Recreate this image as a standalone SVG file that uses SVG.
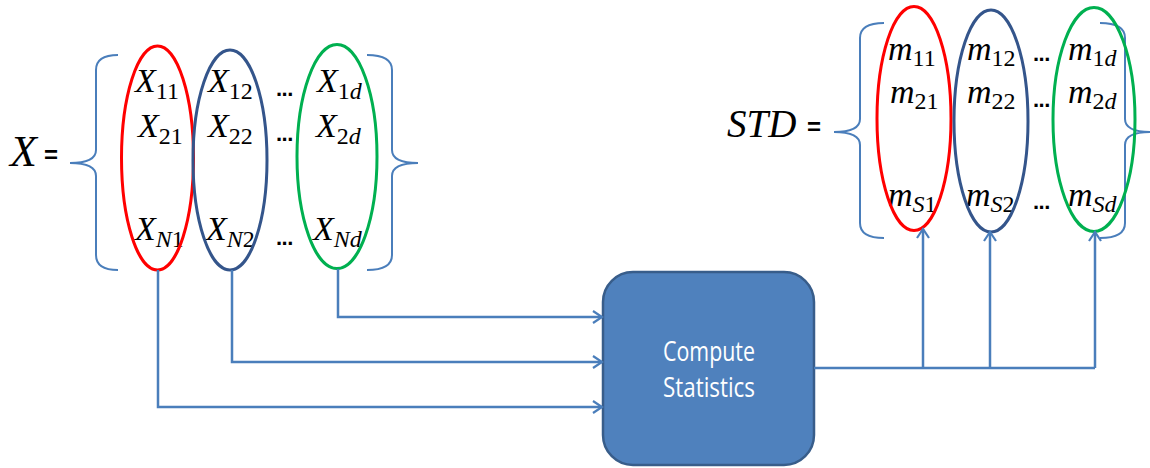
<svg xmlns="http://www.w3.org/2000/svg" width="1150" height="468" viewBox="0 0 1150 468">
<style>
.m{font-family:"Liberation Serif",serif;font-style:italic;fill:#000}
.sub{font-family:"Liberation Serif",serif;font-size:24px;fill:#000}
.i{font-style:italic}
.dots{font-family:"Liberation Sans",sans-serif;font-size:22px;font-weight:bold;fill:#000;letter-spacing:-0.5px}
.eq{font-family:"Liberation Sans",sans-serif;font-size:24px;font-weight:bold;fill:#000}
.brace{fill:none;stroke:#4a7ebb;stroke-width:2}
.conn{fill:none;stroke:#4a7ebb;stroke-width:2.5}
.ell{fill:none;stroke-width:3}
.lbl{font-family:"Open Sans",sans-serif;font-size:28px;fill:#ffffff}
</style>
<defs>
<marker id="arr" markerWidth="12" markerHeight="14" refX="10" refY="7" orient="auto" markerUnits="userSpaceOnUse">
<path d="M1,1 L10,7 L1,13" fill="none" stroke="#4a7ebb" stroke-width="2.2"/>
</marker>
</defs>

<g id="labelX">
<text x="10" y="166" class="m" font-size="44">X</text>
<text x="44" y="163" class="eq">=</text>
</g>

<g id="matrixX">
<path class="brace" d="M118,55 Q96,55 96,70 L96,150 Q96,163 70,163 Q96,163 96,176 L96,255 Q96,270 118,270"/>
<path class="brace" d="M367,55 Q392,55 392,70 L392,150 Q392,163 418,163 Q392,163 392,176 L392,255 Q392,270 367,270"/>
<g font-size="34">
<text x="135" y="92" class="m">X<tspan class="sub" font-style="normal" dy="7">11</tspan></text>
<text x="138" y="137" class="m">X<tspan class="sub" font-style="normal" dy="7">21</tspan></text>
<text x="135" y="240" class="m">X<tspan class="sub" dy="7"><tspan class="i">N</tspan><tspan font-style="normal">1</tspan></tspan></text>
<text x="208" y="92" class="m">X<tspan class="sub" font-style="normal" dy="7">12</tspan></text>
<text x="208" y="137" class="m">X<tspan class="sub" font-style="normal" dy="7">22</tspan></text>
<text x="206" y="240" class="m">X<tspan class="sub" dy="7"><tspan class="i">N</tspan><tspan font-style="normal">2</tspan></tspan></text>
<text x="317" y="92" class="m">X<tspan class="sub" dy="7"><tspan font-style="normal">1</tspan><tspan class="i">d</tspan></tspan></text>
<text x="316" y="137" class="m">X<tspan class="sub" dy="7"><tspan font-style="normal">2</tspan><tspan class="i">d</tspan></tspan></text>
<text x="313" y="240" class="m">X<tspan class="sub" dy="7"><tspan class="i">Nd</tspan></tspan></text>
</g>
<text x="276" y="96" class="dots">...</text>
<text x="276" y="141" class="dots">...</text>
<text x="276" y="245" class="dots">...</text>
<ellipse id="colX1" class="ell" cx="157.5" cy="158" rx="36" ry="112" stroke="#ff0000"/>
<ellipse id="colX2" class="ell" cx="230" cy="160" rx="37" ry="110" stroke="#34558b"/>
<ellipse id="colXd" class="ell" cx="337" cy="156.5" rx="40" ry="112" stroke="#00b050"/>
</g>

<g id="labelSTD">
<text x="727" y="137" class="m" font-size="39">STD</text>
<text x="807" y="135" class="eq">=</text>
</g>

<g id="matrixSTD">
<path class="brace" d="M884,23 Q860,23 860,38 L860,119 Q860,132 834,132 Q860,132 860,145 L860,223 Q860,238 884,238"/>
<path class="brace" d="M1100,23 Q1125,23 1125,38 L1125,119 Q1125,132 1151,132 Q1125,132 1125,145 L1125,223 Q1125,238 1100,238"/>
<g font-size="34">
<text x="888" y="60" class="m">m<tspan class="sub" font-style="normal" dy="6">11</tspan></text>
<text x="890" y="103" class="m">m<tspan class="sub" font-style="normal" dy="6">21</tspan></text>
<text x="888" y="206" class="m">m<tspan class="sub" dy="6"><tspan class="i">S</tspan><tspan font-style="normal">1</tspan></tspan></text>
<text x="967" y="60" class="m">m<tspan class="sub" font-style="normal" dy="6">12</tspan></text>
<text x="967" y="103" class="m">m<tspan class="sub" font-style="normal" dy="6">22</tspan></text>
<text x="966" y="206" class="m">m<tspan class="sub" dy="6"><tspan class="i">S</tspan><tspan font-style="normal">2</tspan></tspan></text>
<text x="1068" y="60" class="m">m<tspan class="sub" dy="6"><tspan font-style="normal">1</tspan><tspan class="i">d</tspan></tspan></text>
<text x="1068" y="103" class="m">m<tspan class="sub" dy="6"><tspan font-style="normal">2</tspan><tspan class="i">d</tspan></tspan></text>
<text x="1068" y="206" class="m">m<tspan class="sub" dy="6"><tspan class="i">Sd</tspan></tspan></text>
</g>
<text x="1033" y="61" class="dots">...</text>
<text x="1033" y="107" class="dots">...</text>
<text x="1033" y="209" class="dots">...</text>
<ellipse id="colM1" class="ell" cx="914" cy="118.5" rx="37" ry="112" stroke="#ff0000"/>
<ellipse id="colM2" class="ell" cx="991" cy="121" rx="37" ry="111" stroke="#34558b"/>
<ellipse id="colMd" class="ell" cx="1094" cy="119.5" rx="41" ry="112" stroke="#00b050"/>
</g>

<g id="compute">
<rect x="603" y="272" width="211" height="193" rx="30" ry="30" fill="#4f81bd" stroke="#385d8a" stroke-width="2.5"/>
<text x="663" y="361" class="lbl" textLength="92" lengthAdjust="spacingAndGlyphs">Compute</text>
<text x="663" y="397" class="lbl" textLength="92" lengthAdjust="spacingAndGlyphs">Statistics</text>
</g>

<g id="connectors">
<path class="conn" d="M158,270 L158,407 L602,407" marker-end="url(#arr)"/>
<path class="conn" d="M232,270 L232,362 L602,362" marker-end="url(#arr)"/>
<path class="conn" d="M338,269 L338,317 L602,317" marker-end="url(#arr)"/>
<path class="conn" d="M814,368 L1095,368"/>
<path class="conn" d="M923,368 L923,229" marker-end="url(#arr)"/>
<path class="conn" d="M990,368 L990,232" marker-end="url(#arr)"/>
<path class="conn" d="M1095,368 L1095,232" marker-end="url(#arr)"/>
</g>
</svg>
